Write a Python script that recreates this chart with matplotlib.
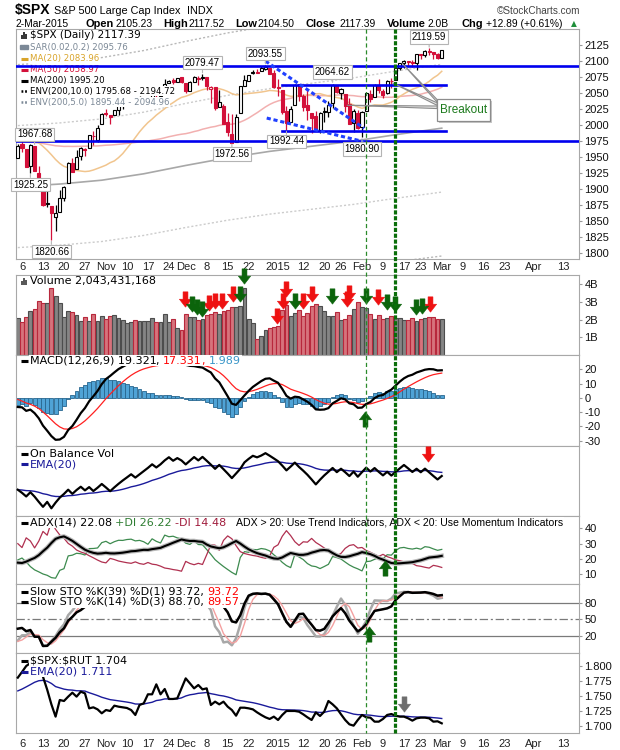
import numpy as np
import pandas as pd
import matplotlib
matplotlib.use("Agg")
import matplotlib.pyplot as plt
from matplotlib.path import Path
from matplotlib.patches import Rectangle, Polygon
from matplotlib.lines import Line2D
from matplotlib.transforms import blended_transform_factory

plt.rcParams['lines.scale_dashes'] = False
plt.rcParams['axes.unicode_minus'] = False
plt.rcParams['font.family'] = ['Liberation Sans', 'DejaVu Sans']

# ---------------- data: $SPX daily, 3-Oct-2014 .. 2-Mar-2015 ----------------
opens = [1948.1, 1970.0, 1962.4, 1935.6, 1967.68, 1925.6, 1905.7, 1877.1, 1874.2, 1855.9,
         1864.9, 1885.6, 1909.4, 1941.3, 1931.0, 1951.6, 1963.0, 1964.1, 1983.3, 1977.1,
         2001.2,
         2018.2, 2015.8, 2015.3, 2023.3, 2032.0, 2032.0, 2038.2, 2037.8, 2039.2, 2039.7,
         2038.3, 2041.5, 2051.2, 2045.9, 2057.5, 2065.1, 2070.2, 2067.0, 2074.8,
         2065.8, 2053.8, 2067.5, 2073.6, 2072.8, 2074.8, 2056.6, 2058.9, 2027.9, 2030.4,
         2005.0, 1986.7, 1973.8, 2019.0, 2061.0, 2069.3, 2081.5, 2083.3, 2084.3, 2087.6,
         2088.5, 2082.1,
         2058.9, 2054.4, 2022.2, 2005.6, 2030.6, 2063.5, 2046.1, 2031.6, 2018.4, 2013.8,
         1992.3, 2020.8, 2020.2, 2034.3, 2063.0, 2050.4, 2047.9, 2032.3, 2002.5, 2019.4,
         1996.7, 2022.7, 2048.9, 2043.5, 2062.3, 2053.5, 2049.4, 2068.6, 2070.0, 2088.8,
         2096.5, 2099.2, 2099.2, 2097.7, 2109.8, 2109.1, 2115.3, 2113.9, 2110.9, 2105.23]
highs = [1971.2, 1977.8, 1962.4, 1970.4, 1967.68, 1936.0, 1912.1, 1898.7, 1874.2, 1876.0,
         1898.2, 1905.0, 1942.5, 1949.3, 1961.9, 1965.3, 1964.6, 1985.1, 1991.4, 1999.4,
         2018.2,
         2024.5, 2016.0, 2023.8, 2031.6, 2034.3, 2038.7, 2041.3, 2040.3, 2046.2, 2042.2,
         2043.1, 2056.1, 2052.1, 2053.8, 2071.5, 2070.2, 2074.2, 2073.4, 2075.8,
         2065.8, 2068.8, 2076.3, 2077.3, 2079.47, 2075.8, 2060.6, 2058.9, 2055.5, 2032.2,
         2018.7, 2016.9, 2016.8, 2061.2, 2077.9, 2078.8, 2086.7, 2087.6, 2092.7, 2093.55,
         2088.5, 2085.6,
         2072.4, 2054.4, 2030.3, 2029.6, 2064.1, 2064.4, 2049.3, 2056.9, 2018.4, 2021.4,
         2020.5, 2028.9, 2038.3, 2064.62, 2063.0, 2057.6, 2047.9, 2042.5, 2024.6, 2023.3,
         2021.7, 2050.3, 2054.7, 2063.6, 2072.4, 2056.2, 2070.9, 2073.5, 2088.5, 2097.0,
         2101.3, 2100.2, 2102.1, 2110.6, 2110.1, 2117.9, 2119.59, 2113.9, 2112.7, 2117.52]
lows = [1948.1, 1958.4, 1934.9, 1925.25, 1927.6, 1906.1, 1874.1, 1871.8, 1820.66, 1835.0,
        1864.9, 1882.3, 1909.4, 1926.8, 1931.0, 1946.3, 1951.4, 1964.1, 1969.0, 1974.0,
        2001.2,
        2013.7, 2001.0, 2015.3, 2015.9, 2025.1, 2030.2, 2035.3, 2031.3, 2030.4, 2035.2,
        2030.2, 2041.5, 2040.4, 2040.5, 2056.8, 2065.1, 2064.8, 2066.9, 2065.1,
        2049.6, 2053.8, 2066.6, 2062.3, 2070.8, 2054.3, 2034.2, 2024.3, 2027.9, 2002.3,
        1982.3, 1972.56, 1973.8, 2019.0, 2061.0, 2069.3, 2079.8, 2081.9, 2084.3, 2085.8,
        2079.5, 2057.9,
        2046.0, 2017.3, 1992.44, 2005.6, 2030.6, 2038.3, 2022.6, 2008.3, 1988.4, 1991.5,
        1988.1, 2004.5, 2012.0, 2026.4, 2050.5, 2041.0, 2019.9, 2001.5, 1989.2, 1993.4,
        1980.9, 2022.7, 2036.7, 2043.5, 2050.0, 2041.9, 2048.6, 2058.0, 2070.0, 2086.7,
        2089.8, 2092.2, 2090.8, 2085.4, 2103.0, 2105.9, 2109.9, 2103.8, 2103.8, 2104.5]
closes = [1967.9, 1964.8, 1935.1, 1968.9, 1928.2, 1906.1, 1874.7, 1877.7, 1862.5, 1862.8,
          1886.8, 1904.0, 1941.3, 1927.1, 1950.8, 1964.6, 1961.6, 1985.1, 1982.3, 1994.7,
          2018.1,
          2017.8, 2012.1, 2023.6, 2031.2, 2031.9, 2038.3, 2039.7, 2038.3, 2039.3, 2039.8,
          2041.3, 2051.8, 2048.7, 2052.8, 2063.5, 2069.4, 2067.0, 2072.8, 2067.6,
          2053.4, 2066.6, 2074.3, 2071.9, 2075.4, 2060.3, 2059.8, 2026.1, 2035.3, 2002.3,
          1989.6, 1972.7, 2012.9, 2061.2, 2070.7, 2078.5, 2082.2, 2081.9, 2088.8, 2090.6,
          2080.4, 2058.9,
          2058.2, 2020.6, 2002.6, 2025.9, 2062.1, 2044.8, 2028.3, 2023.0, 2011.3, 1992.7,
          2019.4, 2022.6, 2032.1, 2063.2, 2051.8, 2057.1, 2029.6, 2002.2, 2021.3, 1995.0,
          2020.9, 2050.0, 2041.5, 2062.5, 2055.5, 2046.7, 2068.6, 2068.5, 2088.5, 2097.0,
          2100.3, 2099.7, 2097.5, 2110.3, 2109.7, 2115.5, 2113.9, 2110.7, 2104.5, 2117.39]
# volume, billions of shares
volume_b = [2.08, 1.85, 2.13, 2.49, 2.60, 3.06, 2.92, 2.92, 3.77, 3.34, 2.92, 2.17, 2.49, 2.45,
            2.26, 1.92, 2.13, 1.92, 2.30, 1.94, 2.20,
            2.05, 2.20, 2.25, 2.10, 1.95, 1.80, 1.85, 1.95, 1.90, 1.90, 1.90, 2.10, 1.85, 1.85,
            2.30, 1.85, 2.05, 1.55, 1.40,
            2.30, 2.15, 2.15, 1.95, 2.05, 2.25, 2.30, 2.45, 2.30, 2.50, 2.55, 2.70, 2.70, 2.75,
            3.80, 2.05, 1.80, 0.90, 1.05, 1.40, 1.50, 1.60,
            1.65, 2.55, 2.80, 2.20, 2.35, 2.55, 2.20, 2.40, 2.75, 2.90, 2.75, 2.50, 2.20, 2.20,
            2.45, 2.00, 2.05, 2.25, 2.60, 3.00,
            2.70, 2.65, 2.30, 2.05, 2.25, 2.05, 2.10, 2.20, 2.10, 2.10, 2.00, 2.00, 2.10, 1.90,
            2.05, 2.10, 2.15, 2.15, 2.05, 2.04]
# closes 1-Jul-2014 .. 2-Oct-2014 (only to warm up the indicators)
warmup_close = [1973.32, 1974.62, 1985.44, 1977.65, 1963.71, 1972.83, 1964.68, 1967.57, 1977.10,
                1973.28, 1981.57, 1958.12, 1978.22, 1973.63, 1983.53, 1987.01, 1987.98, 1978.34,
                1978.91, 1969.95, 1970.07, 1930.67,
                1925.15, 1938.99, 1920.21, 1920.24, 1909.57, 1931.59, 1936.92, 1933.75, 1946.72,
                1955.18, 1955.06, 1971.74, 1981.60, 1986.51, 1992.37, 1988.40, 1997.92, 2000.02,
                2000.12, 1996.74, 2003.37,
                2002.28, 2000.72, 1997.65, 2007.71, 2001.54, 1988.44, 1995.69, 1997.45, 1985.54,
                1984.13, 1998.98, 2001.57, 2011.36, 2010.40, 1994.29, 1982.77, 1998.30, 1965.99,
                1982.85, 1977.80, 1972.29,
                1946.16, 1946.17]
# 200-day MA
ma200_day = [0, 10, 20, 30, 40, 50, 60, 70, 80, 90, 101]
ma200_val = [1904, 1908, 1914, 1924, 1937, 1949, 1959, 1967, 1975, 1985, 1995.2]
# $SPX:$RUT ratio
spx_rut = [1.7805, 1.790, 1.800, 1.805, 1.810, 1.800, 1.782, 1.7604, 1.7358, 1.7152,
           1.7431, 1.7414, 1.7487, 1.7553, 1.7487, 1.7570, 1.7542, 1.7291, 1.7308, 1.7274,
           1.7208, 1.7263, 1.7247, 1.7336, 1.7319, 1.7308, 1.7297, 1.7263, 1.7180, 1.7347,
           1.7375, 1.7526, 1.7526, 1.7693, 1.7526, 1.7615, 1.7448, 1.7448, 1.7459, 1.7626,
           1.7793, 1.7710, 1.7626, 1.7682, 1.7609, 1.7626, 1.7347, 1.7403, 1.7358, 1.7403,
           1.7319, 1.7263, 1.7168, 1.7302, 1.7302, 1.7291, 1.7274, 1.7224, 1.7180, 1.7141,
           1.7113, 1.7152, 1.7096, 1.7180, 1.7247, 1.7247, 1.7247, 1.7235, 1.7191, 1.7141,
           1.7096, 1.7224, 1.7163, 1.7235, 1.7414, 1.7358, 1.7291, 1.7191, 1.7096, 1.7023,
           1.7001, 1.7096, 1.7180, 1.7141, 1.7135, 1.7068, 1.7068, 1.7113, 1.7180, 1.7196,
           1.7168, 1.7152, 1.7152, 1.7124, 1.7085, 1.7124, 1.7135, 1.7135, 1.7124, 1.7068,
           1.7074, 1.7040]
rut_ema_start = 1.756
# Wilder state on the first day: ATR, +DM, -DM, ADX
adx_seed = [16.0, 3.1, 4.8, 17.6]

xtick_pos = [1, 6, 11, 16, 21, 26, 31, 36, 40, 45, 50, 55, 62, 68, 73, 77, 82, 87, 92, 96,
             101, 106, 111, 116, 123, 130]
xtick_lab = ['6', '13', '20', '27', 'Nov', '10', '17', '24', 'Dec', '8', '15', '22', '2015',
             '12', '20', '26', 'Feb', '9', '17', '23', 'Mar', '9', '16', '23', 'Apr', '13']

# chartist's annotations
level_y = [2093, 2062, 1991.5, 1975]
level_span = [None, (63, 102), (63, 102), None]
trend_x = [(59, 82.5), (59.3, 82.5)]
trend_y = [(2100, 1995), (2011, 1974)]
label_idx = [4, 3, 8, 44, 51, 59, 64, 75, 82, 98]
label_side = ['high', 'low', 'low', 'high', 'low', 'high', 'low', 'high', 'low', 'high']
signal_days = [83.0, 89.9]
breakout_tips = [(91.5, 2097), (89.2, 2066), (78.4, 2031)]
vol_red_x = [39.9, 45.6, 47.0, 48.7, 51.3, 61.8, 63.2, 63.9, 67.9, 70.1, 78.4, 78.9, 85.8, 98.2]
vol_red_y = [3.16, 2.94, 3.05, 3.05, 3.45, 2.2, 3.05, 3.72, 3.05, 3.45, 3.16, 3.5, 3.28, 2.88]
vol_green_x = [41.5, 42.7, 43.9, 53.0, 53.9, 66.0, 74.9, 83.0, 88.0, 89.9, 94.9, 96.3]
vol_green_y = [2.88, 2.71, 2.6, 3.45, 4.46, 3.05, 3.33, 3.33, 3.0, 2.88, 2.71, 2.77]

# ---------------- indicators ----------------
n = len(closes)
x = np.arange(n)
o, h, l, c = (np.array(a, float) for a in (opens, highs, lows, closes))
vol = np.array(volume_b)
nw = len(warmup_close)
prev_c = np.r_[warmup_close[-1], c[:-1]]
down_day = c < prev_c

full_c = pd.Series(np.r_[warmup_close, c])
ma20 = full_c.rolling(20).mean().values[nw:]
ma50 = full_c.rolling(50).mean().values[nw:]
ma200_val = np.array(ma200_val)

ema12 = full_c.ewm(span=12, adjust=False).mean()
ema26 = full_c.ewm(span=26, adjust=False).mean()
macd_s = ema12 - ema26
sig_s = macd_s.ewm(span=9, adjust=False).mean()
macd = macd_s.values[nw:]
sig = sig_s.values[nw:]
hist = macd - sig

full_h = pd.Series(np.r_[warmup_close, h])
full_l = pd.Series(np.r_[warmup_close, l])


def slow_k(period):
    hh = full_h.rolling(period).max()
    ll = full_l.rolling(period).min()
    fast = 100 * (full_c - ll) / (hh - ll)
    return fast.rolling(3).mean()


k39 = slow_k(39).values[nw:]
k14_s = slow_k(14)
k14 = k14_s.values[nw:]
d14 = k14_s.rolling(3).mean().values[nw:]

atr, pdm_s, mdm_s, adx_v = adx_seed
pdi_l, mdi_l, adx_l = [], [], []
for t in range(n):
    if t > 0:
        up = h[t] - h[t - 1]
        dn = l[t - 1] - l[t]
        pdm = up if (up > dn and up > 0) else 0.0
        mdm = dn if (dn > up and dn > 0) else 0.0
        tr = max(h[t] - l[t], abs(h[t] - c[t - 1]), abs(l[t] - c[t - 1]))
        atr += (tr - atr) / 14
        pdm_s += (pdm - pdm_s) / 14
        mdm_s += (mdm - mdm_s) / 14
    pdi = 100 * pdm_s / atr
    mdi = 100 * mdm_s / atr
    if t > 0:
        dx = 100 * abs(pdi - mdi) / (pdi + mdi)
        adx_v += (dx - adx_v) / 14
    pdi_l.append(pdi)
    mdi_l.append(mdi)
    adx_l.append(adx_v)

obv = np.cumsum(np.where(down_day, -vol, vol))
obv_ema = pd.Series(obv).ewm(span=20, adjust=False).mean().values

rut_ema = []
e = rut_ema_start
for v in spx_rut:
    e += (v - e) * 2 / 21
    rut_ema.append(e)

# ---------------- layout (pixels of a 620x750 canvas) ----------------
W, H = 620, 750
L, R = 16, 579
XLO, XHI = -0.43, 133.7
RED = '#d3103a'
PX = {}

fig = plt.figure(figsize=(6.2, 7.5), dpi=100)


def panel(top, bot):
    ax = fig.add_axes([L / W, 1 - bot / H, (R - L) / W, (bot - top) / H])
    ax.set_xlim(XLO, XHI)
    for s in ax.spines.values():
        s.set_color('#a8a8a8')
        s.set_linewidth(0.8)
    ax.yaxis.tick_right()
    ax.tick_params(axis='y', length=2, pad=2, labelsize=8, color='#999999', labelcolor='#111111')
    ax.tick_params(axis='x', bottom=False, labelbottom=False)
    PX[ax] = (top, bot)
    return ax


def set_dates(ax, pad):
    ax.set_xticks(xtick_pos)
    ax.set_xticklabels(xtick_lab)
    for t, lab in zip(ax.get_xticklabels(), xtick_lab):
        if not lab.isdigit() or lab == '2015':
            t.set_fontweight('bold')
    ax.tick_params(axis='x', bottom=True, labelbottom=True, length=0, pad=pad,
                   labelsize=8, labelcolor='#222222')


def frac(ax, xpx, ypx):
    top, bot = PX[ax]
    return (xpx - L) / (R - L), (bot - ypx) / (bot - top)


def legend_row(ax, ypx, pieces, size=8, icon=None, xpx=29.5):
    fx, fy = frac(ax, xpx, ypx)
    if icon is not None:
        kind, color = icon
        x0, _ = frac(ax, 20.5, ypx)
        x1, _ = frac(ax, 27.5, ypx)
        if kind == 'line':
            ax.plot([x0, x1], [fy, fy], transform=ax.transAxes, color=color, lw=2.2,
                    solid_capstyle='butt', clip_on=False, zorder=6)
        elif kind == 'dots':
            ax.plot([x0, x1], [fy, fy], transform=ax.transAxes, color=color, lw=1.8,
                    ls=(0, (1.3, 1.3)), clip_on=False, zorder=6)
        elif kind == 'sar':
            ax.plot([x0 + 0.002, x1 - 0.002], [fy, fy], transform=ax.transAxes, ls='none',
                    marker='s', ms=2.2, color=color, clip_on=False, zorder=6)
        elif kind == 'bars':
            for k, hp in enumerate([4, 7, 5]):
                xb, yb = frac(ax, 21.5 + 2.3 * k, ypx + 3.5)
                _, yt = frac(ax, 21.5, ypx + 3.5 - hp)
                ax.plot([xb, xb], [yb, yt], transform=ax.transAxes, color=color, lw=1.4,
                        solid_capstyle='butt', clip_on=False, zorder=6)
    prev = None
    for text, color in pieces:
        kw = dict(fontsize=size, color=color, va='center', ha='left', zorder=5,
                  family='DejaVu Sans', bbox=dict(fc='white', ec='none', pad=0.5))
        if prev is None:
            prev = ax.text(fx, fy, text, transform=ax.transAxes, **kw)
        else:
            prev = ax.annotate(text, xy=(1, 0.5), xycoords=prev, **kw)
    return prev


DOWN = Path([(-0.16, 0.5), (0.16, 0.5), (0.16, 0.02), (0.4, 0.02), (0, -0.5),
             (-0.4, 0.02), (-0.16, 0.02), (-0.16, 0.5)], closed=True)
UP = Path([(-0.16, -0.5), (0.16, -0.5), (0.16, -0.02), (0.4, -0.02), (0, 0.5),
           (-0.4, -0.02), (-0.16, -0.02), (-0.16, -0.5)], closed=True)


def arrows(ax, xs, ys, color, up=False, transform=None):
    ax.plot(xs, ys, ls='none', marker=UP if up else DOWN, ms=11, mfc=color, mec=color,
            mew=0.4, clip_on=False, zorder=8,
            transform=transform if transform is not None else ax.transData)


# ---------------- header ----------------
fig.text(15 / W, 1 - 10 / H, r'\$SPX', fontsize=10, fontweight='bold', va='center')
fig.text(54 / W, 1 - 10.5 / H, 'S&P 500 Large Cap Index', fontsize=7.8, va='center')
fig.text(187 / W, 1 - 10.5 / H, 'INDX', fontsize=7.8, va='center')
fig.text(580 / W, 1 - 10.5 / H, '\u00a9StockCharts.com', fontsize=7.2, va='center', ha='right',
         color='#444444')
hdr = [(16, '2-Mar-2015', 'normal'), (85, 'Open', 'bold'), (116, '2105.23', 'normal'),
       (163, 'High', 'bold'), (189, '2117.52', 'normal'), (235, 'Low', 'bold'),
       (258, '2104.50', 'normal'), (306, 'Close', 'bold'), (339, '2117.39', 'normal'),
       (387, 'Volume', 'bold'), (428, '2.0B', 'normal'), (462, 'Chg', 'bold'),
       (486, '+12.89 (+0.61%)', 'normal')]
for xp, s, wt in hdr:
    fig.text(xp / W, 1 - 24 / H, s, fontsize=7.9 if wt == 'bold' else 7.4, fontweight=wt,
             va='center')
fig.text(574 / W, 1 - 24 / H, '\u25b2', fontsize=5.5, color='#1f8f3a', va='center', ha='center',
         family='DejaVu Sans')

# ---------------- price panel ----------------
ax = panel(29, 259)
ax.set_ylim(1791, 2150)
ax.set_yticks(np.arange(1800, 2126, 25))
set_dates(ax, 2.5)

ax.plot(ma200_day, ma200_val * 1.10, color='#b8b8b8', lw=1, ls=(0, (1.5, 1.5)), zorder=2)
ax.plot(ma200_day, ma200_val * 0.90, color='#b8b8b8', lw=1, ls=(0, (1.5, 1.5)), zorder=2)
ax.plot(ma200_day, ma200_val * 1.05, color='#cccccc', lw=1, ls=(0, (1.5, 1.5)), zorder=2)
ax.plot(ma200_day, ma200_val * 0.95, color='#cccccc', lw=1, ls=(0, (1.5, 1.5)), zorder=2)
ax.plot(ma200_day, ma200_val, color='#a8a8a8', lw=1.2, zorder=2)
ax.plot(x, ma50, color='#f2b0b0', lw=1.1, zorder=2)
ax.plot(x, ma20, color='#f1c58e', lw=1.1, zorder=2)

ccol = np.where(down_day, RED, 'black')
face = ['white' if cc >= oo else cl for oo, cc, cl in zip(o, c, ccol)]
ax.vlines(x, l, h, colors=ccol, lw=0.9, zorder=3)
ax.bar(x, np.maximum(np.abs(c - o), 0.6), bottom=np.minimum(o, c), width=0.72, color=face,
       edgecolor=ccol, linewidth=0.8, zorder=4)

legend_row(ax, 35.3, [(r'\$SPX (Daily) 2117.39', 'black')], size=7.5, icon=('bars', '#333333'))
legend_row(ax, 47.3, [('SAR(0.02,0.2) 2095.76', '#7b8896')], size=6.2, icon=('sar', '#7b8896'))
legend_row(ax, 58.7, [('MA(20) 2083.96', '#d9a42a')], size=6.2, icon=('line', '#d9a42a'))
legend_row(ax, 69.7, [('MA(50) 2058.97', RED)], size=6.2, icon=('line', RED))
legend_row(ax, 80.7, [('MA(200) 1995.20', 'black')], size=6.2, icon=('line', 'black'))
legend_row(ax, 91.3, [('ENV(200,10.0) 1795.68 - 2194.72', 'black')], size=6.2,
           icon=('dots', 'black'))
legend_row(ax, 102, [('ENV(200,5.0) 1895.44 - 2094.96', '#7b8896')], size=6.2,
           icon=('dots', '#7b8896'))

for yv, span in zip(level_y, level_span):
    if span is None:
        ax.axhline(yv, color='#0000ee', lw=1.9, zorder=6)
    else:
        ax.plot(span, [yv, yv], color='#0000ee', lw=1.9, zorder=6)
for tx, ty in zip(trend_x, trend_y):
    ax.plot(tx, ty, color='#2040ff', lw=2.2, ls=(0, (3, 2)), zorder=6)

for i, side in zip(label_idx, label_side):
    val = highs[i] if side == 'high' else lows[i]
    off = 8.3 if side == 'high' else -8.3
    ax.annotate(f'{val:.2f}', xy=(i, val), xytext=(0, off), textcoords='offset points',
                ha='center', va='center', fontsize=7, zorder=7, annotation_clip=False,
                bbox=dict(boxstyle='square,pad=0.18', fc='white', ec='#b4b4b4', lw=0.8),
                arrowprops=dict(arrowstyle='-', color='#b4b4b4', lw=0.8, shrinkA=0, shrinkB=1))

# "Breakout" call-out
bx, by, bw, bh = 99.9, 2006.4, 12.6, 34.4
for k, (tx, ty) in enumerate(breakout_tips):
    y0 = by + bh - 1 - 5 * k
    ax.add_patch(Polygon([(bx, y0), (bx, y0 - 4), (tx, ty)], closed=True, fc='#e4e4e4',
                         ec='#8c8c8c', lw=0.8, zorder=6))
ax.add_patch(Rectangle((bx + 0.5, by - 3), bw, bh, fc='#c8c8c8', ec='none', zorder=6))
ax.add_patch(Rectangle((bx, by), bw, bh, fc='white', ec='#8c8c8c', lw=0.9, zorder=7))
ax.text(bx + bw / 2, by + bh / 2, 'Breakout', color='#1c7a1c', fontsize=8.5, ha='center',
        va='center', zorder=8)

# ---------------- volume ----------------
axv = panel(275, 355)
axv.set_ylim(0, 4.52)
axv.set_yticks([1, 2, 3, 4])
axv.set_yticklabels(['1B', '2B', '3B', '4B'])
axv.bar(x, vol, width=0.92, color=np.where(down_day, '#d6737c', '#858585'),
        edgecolor=np.where(down_day, '#b8283c', '#4d4d4d'), linewidth=0.8, zorder=2)
legend_row(axv, 281.3, [('Volume 2,043,431,168', 'black')], icon=('bars', '#555555'))
arrows(axv, vol_red_x, vol_red_y, '#ee1111')
arrows(axv, vol_green_x, vol_green_y, '#0b640b')

# ---------------- MACD ----------------
axm = panel(355, 446)
axm.set_ylim(-33.7, 30)
axm.set_yticks([-30, -20, -10, 0, 10, 20])
axm.bar(x, hist, width=0.92, color='#4fa3d6', edgecolor='#28668f', linewidth=0.6, zorder=2)
axm.plot(x, sig, color='#ff2020', lw=0.9, zorder=3)
axm.plot(x, macd, color='black', lw=1.6, zorder=3)
legend_row(axm, 360.7, [('MACD(12,26,9) 19.321', 'black'), (', ', 'black'), ('17.331', 'red'),
                        (', ', 'red'), ('1.989', '#3a96c8')], icon=('line', 'black'))
arrows(axm, [82.7], [-14.5], '#0b640b', up=True)

# ---------------- On Balance Volume ----------------
axo = panel(446, 516)
lo, hi = obv.min(), obv.max()
rng = hi - lo
axo.set_ylim(lo - 0.14 * rng, hi + 0.13 * rng)
axo.set_yticks([])
axo.plot(x, obv_ema, color='#1a1a9a', lw=1, zorder=2)
axo.plot(x, obv, color='black', lw=1.6, zorder=3)
legend_row(axo, 454, [('On Balance Vol', 'black')], icon=('line', 'black'))
legend_row(axo, 464.3, [('EMA(20)', '#1a1a9a')], icon=('line', '#1a1a9a'))
arrows(axo, [97.7], [0.886], '#ee1111',
       transform=blended_transform_factory(axo.transData, axo.transAxes))

# ---------------- ADX ----------------
axa = panel(516, 584)
axa.set_ylim(3.7, 48)
axa.set_yticks([10, 20, 30, 40])
axa.plot(x, pdi_l, color='#3d8b4f', lw=0.9, zorder=2)
axa.plot(x, mdi_l, color='#b03050', lw=0.9, zorder=2)
axa.plot(x, adx_l, color='#b8b8b8', lw=3.2, zorder=3)
axa.plot(x, adx_l, color='black', lw=1.5, zorder=3)
legend_row(axa, 522.7, [('ADX(14) 22.08 ', 'black'), ('+DI 26.22 ', '#2e7d32'),
                        ('-DI 14.48', '#a01c3c')], icon=('line', 'black'))
fx, fy = frac(axa, 236, 522.7)
axa.text(fx, fy, 'ADX > 20: Use Trend Indicators, ADX < 20: Use Momentum Indicators',
         transform=axa.transAxes, fontsize=7.6, va='center', ha='left', zorder=5,
         bbox=dict(fc='white', ec='none', pad=0.5))
arrows(axa, [87.6], [14.4], '#0b640b', up=True)

# ---------------- Slow stochastics ----------------
axs = panel(584, 653)
axs.set_ylim(-11.5, 114)
axs.set_yticks([20, 50, 80])
axs.axhline(80, color='#7a7a7a', lw=0.9, zorder=1)
axs.axhline(20, color='#7a7a7a', lw=0.9, zorder=1)
axs.axhline(50, color='#7a7a7a', lw=0.9, ls=(0, (6, 2, 1.5, 2)), zorder=1)
axs.plot(x, k14, color='#a8a8a8', lw=1.8, zorder=2)
axs.plot(x, d14, color='#f4a0a0', lw=1, zorder=2)
axs.plot(x, k39, color='#f08080', lw=1, zorder=3)
axs.plot(x, k39, color='black', lw=1.8, zorder=3)
legend_row(axs, 591.7, [('Slow STO %K(39) %D(1) 93.72, ', 'black'), ('93.72', 'red')],
           icon=('line', 'black'))
legend_row(axs, 602, [('Slow STO %K(14) %D(3) 88.70, ', 'black'), ('89.57', 'red')],
           icon=('line', 'black'))
arrows(axs, [83.6], [23], '#0b640b', up=True)

# ---------------- $SPX:$RUT ----------------
axr = panel(653, 733)
axr.set_ylim(1.6878, 1.8218)
axr.set_yticks([1.700, 1.725, 1.750, 1.775, 1.800])
axr.set_yticklabels(['1.700', '1.725', '1.750', '1.775', '1.800'])
axr.plot(x, rut_ema, color='#1a1a9a', lw=1, zorder=2)
axr.plot(x, spx_rut, color='black', lw=1.6, zorder=3)
legend_row(axr, 660.7, [(r'\$SPX:\$RUT 1.704', 'black')], icon=('line', 'black'))
legend_row(axr, 671.7, [('EMA(20) 1.711', '#1a1a9a')], icon=('line', '#1a1a9a'))
arrows(axr, [91.9], [1.7364], '#6e6e6e')
set_dates(axr, 4.5)

# ---------------- signal lines across all panels ----------------
for day, lw, ls, colr in zip(signal_days, [0.9, 2.3], [(0, (3, 2)), (0, (3, 1.2))],
                             ['#2a8a2a', '#0a6e0a']):
    fxp = (L + (day - XLO) / (XHI - XLO) * (R - L)) / W
    fig.add_artist(Line2D([fxp, fxp], [1 - 29 / H, 1 - 733 / H], color=colr, lw=lw, ls=ls))

fig.savefig('out.png', dpi=100)
